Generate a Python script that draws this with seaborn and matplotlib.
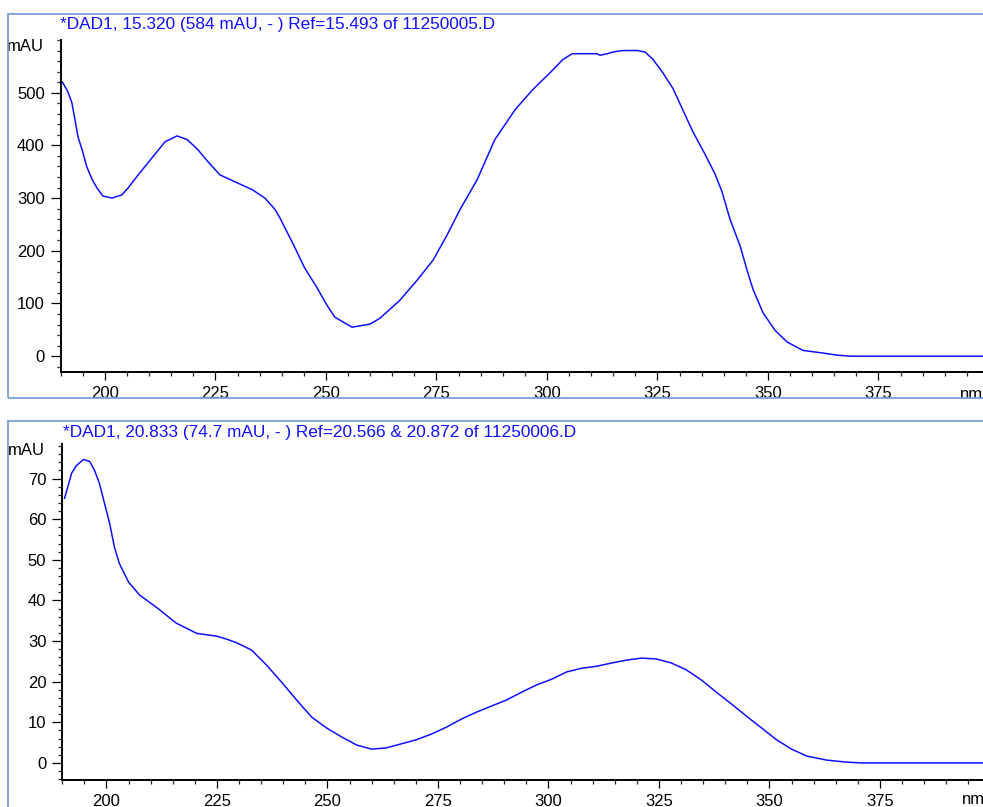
import numpy as np
import pandas as pd
import matplotlib
matplotlib.use("Agg")
import matplotlib.pyplot as plt
from matplotlib.patches import Rectangle
from matplotlib.ticker import MultipleLocator
import seaborn as sns

# ---- data ----
title_top = "*DAD1, 15.320 (584 mAU, - ) Ref=15.493 of 11250005.D"
title_bot = "*DAD1, 20.833 (74.7 mAU, - ) Ref=20.566 & 20.872 of 11250006.D"

wl_top = [190.3, 191.6, 192.5, 193.2, 193.9, 194.8, 195.9, 197.1, 198.2, 199.5,
          201.6, 203.8, 205.2, 207.5, 210.6, 213.6, 216.3, 218.6, 221.0, 223.3,
          226.0, 229.4, 233.3, 236.2, 238.5, 239.6, 242.5, 245.2, 247.9, 250.2,
          252.0, 255.9, 260.0, 262.2, 266.7, 270.6, 274.2, 277.4, 280.3, 284.2,
          288.2, 292.8, 296.8, 300.7, 303.6, 305.7, 311.3, 312.0, 313.6, 315.4,
          317.2, 320.6, 322.2, 324.0, 326.2, 328.5, 330.8, 333.0, 335.7, 338.0,
          339.6, 341.4, 343.7, 345.2, 346.6, 348.9, 351.6, 354.3, 357.9, 362.4,
          365.6, 368.6, 400.0]
abs_top = [521, 502, 481, 449, 416, 392, 359, 335, 319, 304,
           300, 306, 319, 344, 376, 407, 418, 411, 392, 369,
           344, 331, 316, 300, 278, 262, 214, 167, 131, 97,
           74, 55, 61, 72, 106, 144, 182, 230, 278, 335,
           411, 468, 506, 538, 563, 574, 574, 571, 574, 578,
           580, 580, 577, 563, 538, 508, 466, 426, 384, 346,
           312, 260, 209, 165, 127, 82, 49, 27, 11, 6,
           2, 0, 0]

wl_bot = [190.5, 192.1, 193.2, 194.8, 196.2, 197.3, 198.4, 199.5, 200.7, 201.8,
          202.9, 205.0, 207.5, 211.3, 215.8, 220.4, 224.9, 227.1, 229.4, 232.8,
          236.2, 239.6, 243.0, 246.4, 249.8, 253.2, 256.6, 260.0, 263.3, 266.7,
          270.1, 273.5, 276.9, 280.3, 283.7, 287.1, 290.5, 293.9, 297.3, 300.7,
          304.1, 307.5, 310.9, 314.3, 317.6, 321.0, 324.4, 327.8, 331.2, 334.6,
          338.0, 341.4, 344.8, 348.2, 351.6, 355.0, 358.4, 362.9, 367.4, 370.8,
          400.0]
abs_bot = [65.1, 71.3, 73.2, 74.7, 74.2, 72.0, 68.8, 64.1, 59.0, 53.1,
           49.1, 44.5, 41.3, 38.3, 34.4, 31.9, 31.2, 30.5, 29.6, 27.8,
           24.1, 19.9, 15.5, 11.3, 8.6, 6.4, 4.4, 3.4, 3.7, 4.7,
           5.7, 7.1, 8.8, 10.8, 12.5, 14.0, 15.5, 17.4, 19.2, 20.6,
           22.4, 23.3, 23.8, 24.6, 25.3, 25.8, 25.6, 24.6, 22.9, 20.4,
           17.4, 14.5, 11.5, 8.6, 5.7, 3.4, 1.7, 0.7, 0.2, 0.0,
           0.0]

yticks_top = [0, 100, 200, 300, 400, 500]
yticks_bot = [0, 10, 20, 30, 40, 50, 60, 70]
xticks = [200, 225, 250, 275, 300, 325, 350, 375]

# ---- style ----
sns.set_style("ticks")
plt.rcParams['font.family'] = ['Liberation Sans', 'DejaVu Sans']

W, H = 983, 807
fig = plt.figure(figsize=(W / 100, H / 100), dpi=100)
fig.patch.set_facecolor("white")

def fx(px):
    return px / W

def fy(py):
    return 1 - py / H

line_color = "#1010ff"
frame_color = "#7aa0d4"

# panel frames
fig.patches.append(Rectangle((fx(8), fy(398)), fx(1200), fy(14) - fy(398),
                             transform=fig.transFigure, fill=False,
                             edgecolor=frame_color, linewidth=1.3, zorder=0))
fig.patches.append(Rectangle((fx(8), fy(1200)), fx(1200), fy(421) - fy(1200),
                             transform=fig.transFigure, fill=False,
                             edgecolor=frame_color, linewidth=1.3, zorder=0))

x0, x1 = 190.0, 400.0
pxnm = 4.42
left_px = 105 - (200 - x0) * pxnm
width_px = (x1 - x0) * pxnm

ax1 = fig.add_axes([fx(left_px), fy(372), fx(width_px), fy(40) - fy(372)])
ax2 = fig.add_axes([fx(left_px + 1.5), fy(780), fx(width_px), fy(444) - fy(780)])

df_top = pd.DataFrame({"nm": wl_top, "mAU": abs_top})
df_bot = pd.DataFrame({"nm": wl_bot, "mAU": abs_bot})

sns.lineplot(data=df_top, x="nm", y="mAU", ax=ax1, color=line_color,
             linewidth=1.1, estimator=None, sort=False)
sns.lineplot(data=df_bot, x="nm", y="mAU", ax=ax2, color=line_color,
             linewidth=1.1, estimator=None, sort=False)

setups = [
    (ax1, (-30, 600), yticks_top, 20, title_top, 60, 25, -10.5),
    (ax2, (-4.2, 78.5), yticks_bot, 2, title_bot, 63, 433, -8.5),
]
for ax, ylim, yt, ymin, title, tx, ty, nm_off in setups:
    ax.set_xlim(x0, x1)
    ax.set_ylim(*ylim)
    ax.set_facecolor("none")
    ax.set_xlabel("")
    ax.set_ylabel("")
    ax.set_xticks(xticks)
    ax.xaxis.set_minor_locator(MultipleLocator(5))
    ax.set_yticks(yt)
    ax.yaxis.set_minor_locator(MultipleLocator(ymin))
    for s in ["top", "right"]:
        ax.spines[s].set_visible(False)
    for s in ["left", "bottom"]:
        ax.spines[s].set_linewidth(1.4)
        ax.spines[s].set_color("black")
    ax.tick_params(axis="x", which="major", length=6, width=0.9, pad=4,
                   labelsize=12, direction="out", colors="black")
    ax.tick_params(axis="x", which="minor", length=3, width=0.9, direction="out")
    ax.tick_params(axis="y", which="major", length=7.5, width=0.9, pad=4,
                   labelsize=12, direction="out", colors="black")
    ax.tick_params(axis="y", which="minor", length=3, width=0.9, direction="out")
    ax.annotate("mAU", xy=(0, 1), xycoords="axes fraction",
                xytext=(-12.5, -5), textcoords="offset points",
                ha="right", va="center", fontsize=12, color="black")
    ax.annotate("nm", xy=(393.5, 0), xycoords=("data", "axes fraction"),
                xytext=(0, nm_off), textcoords="offset points",
                ha="left", va="top", fontsize=12, color="black",
                annotation_clip=False)
    fig.text(fx(tx), fy(ty), title, color=line_color, fontsize=12.4,
             ha="left", va="center")

fig.savefig("out.png", dpi=100)
